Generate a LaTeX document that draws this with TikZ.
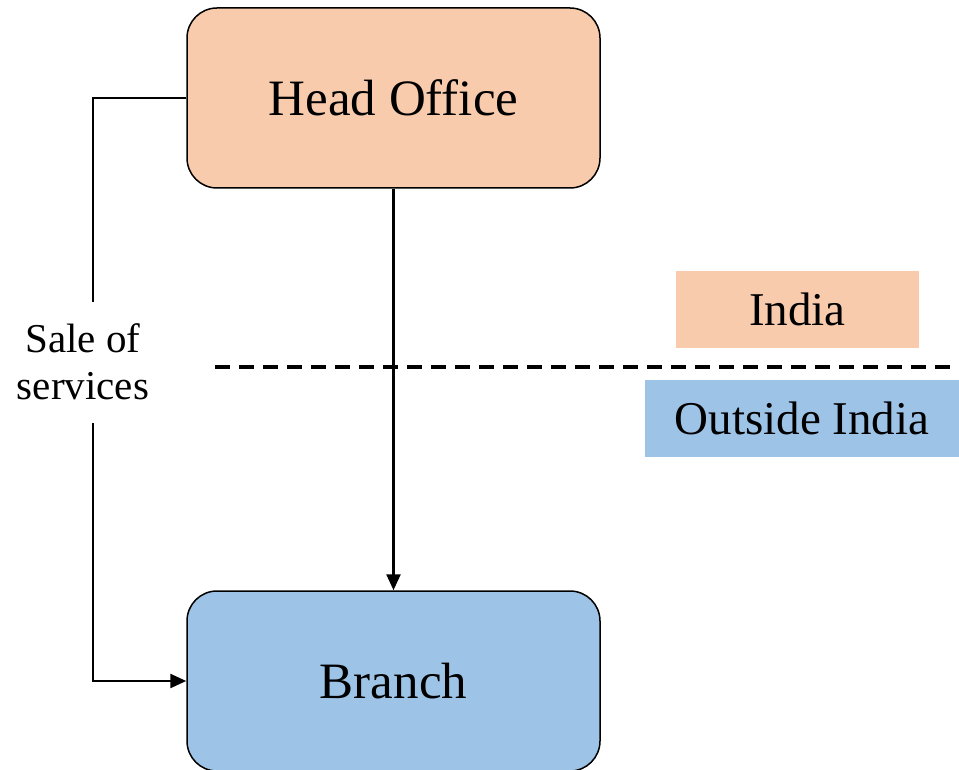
\documentclass[tikz,border=0pt]{standalone}
\usepackage{fontspec}
\setmainfont{Liberation Serif}
\usetikzlibrary{arrows.meta}
\definecolor{peach}{HTML}{F8CBAD}
\definecolor{skyb}{HTML}{9DC3E6}
\tikzset{
  bigbox/.style={draw=black, line width=1.5pt, rounded corners=30pt, minimum width=413pt, minimum height=180pt, inner sep=0pt, font=\fontsize{51}{56}\selectfont},
  tagbox/.style={minimum height=77pt, inner sep=0pt, font=\fontsize{47}{52}\selectfont},
  conn/.style={line width=2.5pt, -{Triangle[length=16pt,width=14pt]}},
  plain/.style={line width=2.5pt},
  sepline/.style={line width=3.5pt, dash pattern=on 15pt off 9pt}
}
\begin{document}
\begin{tikzpicture}[x=1pt,y=-1pt]
\clip (0,0) rectangle (959,770);
\fill[white] (0,0) rectangle (959,770);
\node[bigbox, fill=peach] (ho) at (393.5,98) {Head Office};
\node[bigbox, fill=skyb] (br) at (393.5,681) {Branch};
\node[tagbox, fill=peach, minimum width=243pt] (in) at (797.5,309.5) {India};
\node[tagbox, fill=skyb, minimum width=314pt] (out) at (802,418.5) {Outside India};
\node[align=center, inner sep=0pt, font=\fontsize{41}{47}\selectfont] (sale) at (83,362) {Sale of\\services};
\coordinate (lt) at (93,302);
\coordinate (lb) at (93,423);
\coordinate (d1) at (215,367);
\coordinate (d2) at (962,367);
\draw[conn] (ho.south) -- (br.north);
\draw[plain] (ho.west) -| (lt);
\draw[conn] (lb) |- (br.west);
\draw[sepline] (d1) -- (d2);
\end{tikzpicture}
\end{document}
